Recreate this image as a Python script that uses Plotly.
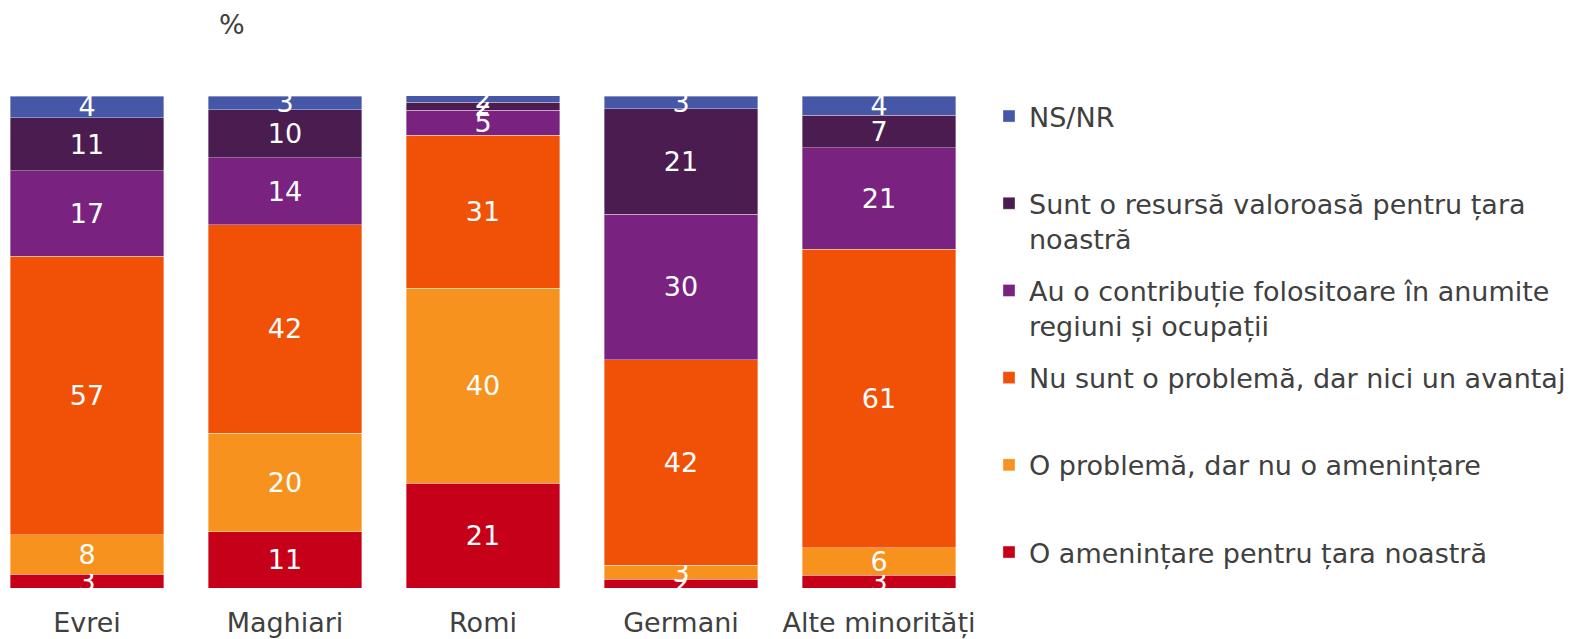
import plotly.graph_objects as go

categories = ["Evrei", "Maghiari", "Romi", "Germani", "Alte minorități"]

series_names = [
    "O amenințare pentru țara noastră",
    "O problemă, dar nu o amenințare",
    "Nu sunt o problemă, dar nici un avantaj",
    "Au o contribuție folositoare în anumite<br>regiuni și ocupații",
    "Sunt o resursă valoroasă pentru țara<br>noastră",
    "NS/NR",
]

amenintare = [2.8, 11.4, 21.3, 1.8, 2.6]
problema = [8.0, 20.1, 39.6, 2.8, 5.6]
nu_problema = [56.6, 42.3, 31.1, 41.8, 60.7]
contributie = [17.4, 13.6, 5.1, 29.6, 20.6]
resursa = [10.8, 9.8, 1.6, 21.4, 6.6]
ns_nr = [4.4, 2.8, 1.5, 2.6, 3.9]

series_values = [amenintare, problema, nu_problema, contributie, resursa, ns_nr]
colors = ["#C70019", "#F7921E", "#F05106", "#7A2280", "#4B1C50", "#4657A8"]

FS = 27
fig = go.Figure()
n = len(series_names)
for i, (name, vals, col) in enumerate(zip(series_names, series_values, colors)):
    label = name if "<br>" in name else name + "<br> "
    fig.add_trace(go.Bar(
        x=list(range(len(categories))), y=vals, name=label,
        marker=dict(color=col, line=dict(color="rgba(255,255,255,0.6)", width=0.6)),
        texttemplate="%{y:.0f}", textposition="inside", insidetextanchor="middle",
        textangle=0,
        textfont=dict(color="white", size=FS, family="DejaVu Sans"),
        constraintext="none", legendgroup=str(i), legendrank=n - i,
        hoverinfo="skip",
    ))

fig.update_layout(
    width=1570, height=639,
    barmode="stack", bargap=0.227,
    plot_bgcolor="white", paper_bgcolor="white",
    margin=dict(l=0, r=590, t=96, b=51),
    font=dict(family="DejaVu Sans", color="#404040", size=FS),
    uniformtext=dict(minsize=FS, mode="show"),
    showlegend=True,
    legend=dict(
        traceorder="grouped", tracegroupgap=14, valign="top",
        xref="container", yref="container", x=989 / 1570, y=1 - 92 / 639,
        xanchor="left", yanchor="top", maxheight=630,
        font=dict(size=FS, color="#404040", family="DejaVu Sans"),
        bgcolor="rgba(0,0,0,0)",
    ),
    xaxis=dict(
        tickmode="array", tickvals=list(range(len(categories))), ticktext=categories,
        range=[-87 / 198, -87 / 198 + 980 / 198], showgrid=False, zeroline=False,
        showline=False, ticks="", ticklabelstandoff=16,
        tickfont=dict(size=FS, color="#404040"), automargin=False,
    ),
    yaxis=dict(range=[0, 100], visible=False),
    annotations=[dict(
        text="%", xref="paper", yref="paper", x=232 / 980, y=(588 - 24) / 492,
        xanchor="center", yanchor="middle", showarrow=False,
        font=dict(size=FS, color="#404040"),
    )],
)

fig.write_html(
    "out.html",
    config={"displayModeBar": False},
    post_script="document.body.style.margin='0';document.body.style.overflow='hidden';",
)
